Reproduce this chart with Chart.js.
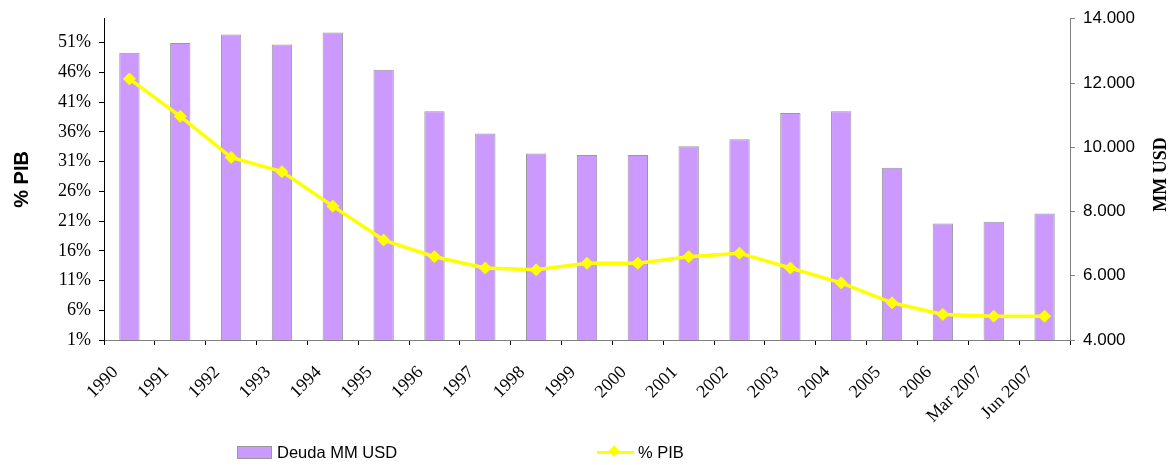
<!DOCTYPE html>
<html>
<head>
<meta charset="utf-8">
<script src="https://cdn.jsdelivr.net/npm/chart.js@4/dist/chart.umd.min.js"></script>
<style>
html,body{margin:0;padding:0;background:#fff;}
#wrap{position:relative;width:1175px;height:465px;}
#legend{position:absolute;left:0;top:0;width:1175px;height:465px;pointer-events:none;font-family:"Liberation Sans",Arial,sans-serif;font-size:16.5px;color:#000;}
.li{position:absolute;display:flex;align-items:center;}
.box{width:33px;height:11px;background:#CC99FF;border:1px solid #999;margin-right:5px;}
.lsym{position:relative;width:37px;height:12px;margin-right:4px;}
.lsym .ln{position:absolute;left:0;top:4px;width:37px;height:3.5px;background:#FFFF00;}
.lsym .dm{position:absolute;left:13px;top:0.5px;width:8px;height:8px;background:#FFFF00;transform:rotate(45deg);}
</style>
</head>
<body>
<div id="wrap">
<canvas id="c" width="1175" height="465"></canvas>
<div id="legend"></div>
</div>
<script>
const categories = ["1990","1991","1992","1993","1994","1995","1996","1997","1998","1999","2000","2001","2002","2003","2004","2005","2006","Mar 2007","Jun 2007"];
const deudaMMUSD = [12940,13250,13510,13200,13570,12410,11120,10430,9810,9760,9760,10030,10250,11070,11120,9360,7630,7680,7940];
const pctPIB = [44.9,38.6,31.7,29.3,23.5,17.8,15.0,13.1,12.8,13.9,13.9,15.0,15.6,13.1,10.6,7.25,5.3,5.0,5.0];
const leftTicks = [1,6,11,16,21,26,31,36,41,46,51];
const rightTicks = [4000,6000,8000,10000,12000,14000];
const barLabel = "Deuda MM USD";
const lineLabel = "% PIB";
const leftTitle = "% PIB";
const rightTitle = "MM USD";

const serif = '"Liberation Serif","Times New Roman",serif';
const sans = '"Liberation Sans",Arial,sans-serif';

const rightTitlePlugin = {
  id: 'rightTitle',
  afterDraw(chart) {
    const s = chart.scales.y1;
    const ctx = chart.ctx;
    ctx.save();
    ctx.translate(1161, (s.top + s.bottom) / 2 - 5);
    ctx.rotate(-Math.PI / 2);
    ctx.font = 'bold 18px ' + serif;
    ctx.fillStyle = '#000';
    ctx.textAlign = 'center';
    ctx.textBaseline = 'middle';
    ctx.fillText(rightTitle, 0, 0);
    ctx.restore();
  }
};

new Chart(document.getElementById('c'), {
  type: 'bar',
  data: {
    labels: categories,
    datasets: [
      {
        type: 'line',
        label: lineLabel,
        data: pctPIB,
        yAxisID: 'y',
        borderColor: '#FFFF00',
        backgroundColor: '#FFFF00',
        borderWidth: 3.5,
        pointStyle: 'rectRot',
        pointRadius: 6,
        pointBackgroundColor: '#FFFF00',
        pointBorderColor: '#FFFF00',
        pointBorderWidth: 1,
        tension: 0,
        order: 1
      },
      {
        type: 'bar',
        label: barLabel,
        data: deudaMMUSD,
        yAxisID: 'y1',
        backgroundColor: '#CC99FF',
        borderColor: '#999999',
        borderWidth: 1,
        categoryPercentage: 1,
        barPercentage: 0.4,
        order: 2
      }
    ]
  },
  options: {
    responsive: false,
    animation: false,
    events: [],
    layout: { padding: { top: 17, left: 0, right: 0, bottom: 0 } },
    plugins: { legend: { display: false }, tooltip: { enabled: false } },
    scales: {
      x: {
        offset: true,
        grid: { display: true, offset: true, drawOnChartArea: false, drawTicks: true, tickLength: 5, tickColor: '#000' },
        border: { color: '#808080', width: 1 },
        ticks: { autoSkip: false, minRotation: 45, maxRotation: 45, padding: 17, labelOffset: -14, color: '#000', font: { family: serif, size: 18 } },
        afterFit(s) { s.height = 125; }
      },
      y: {
        position: 'left',
        min: 1, max: 55,
        afterBuildTicks(s) { s.ticks = leftTicks.map(v => ({ value: v })); },
        grid: { drawOnChartArea: false, tickLength: 5, tickColor: '#000' },
        border: { color: '#000', width: 1 },
        ticks: { padding: 8, color: '#000', font: { family: serif, size: 18 }, callback: v => v + '%' },
        title: { display: true, text: leftTitle, color: '#000', font: { family: sans, size: 20, weight: 'bold' }, padding: { top: 10, bottom: 0 } },
        afterFit(s) { s.width = 104; }
      },
      y1: {
        position: 'right',
        min: 4000, max: 14000,
        afterBuildTicks(s) { s.ticks = rightTicks.map(v => ({ value: v })); },
        grid: { drawOnChartArea: false, tickLength: 5, tickColor: '#808080' },
        border: { color: '#808080', width: 1 },
        ticks: { padding: 8, color: '#000', font: { family: sans, size: 17 }, callback: v => v.toLocaleString('de-DE') },
        afterFit(s) { s.width = 105; }
      }
    }
  },
  plugins: [rightTitlePlugin]
});

const lg = document.getElementById('legend');
lg.innerHTML =
  '<div class="li" style="left:237px;top:443px;"><div class="box"></div><span>' + barLabel + '</span></div>' +
  '<div class="li" style="left:597px;top:443px;"><div class="lsym"><div class="ln"></div><div class="dm"></div></div><span>' + lineLabel + '</span></div>';
</script>
</body>
</html>
